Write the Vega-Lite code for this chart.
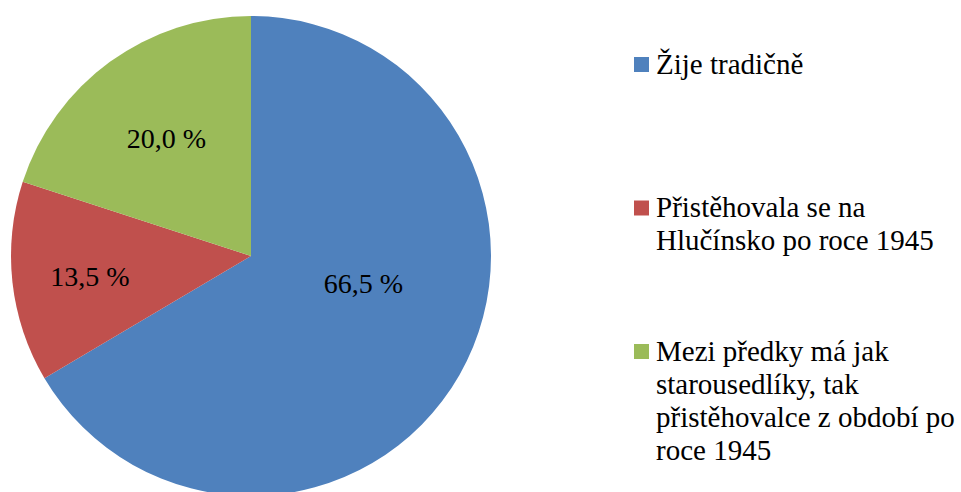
{
  "$schema": "https://vega.github.io/schema/vega-lite/v6.json",
  "width": 502,
  "height": 492,
  "autosize": {"type": "none"},
  "padding": {"left": 0, "top": 0, "right": 459, "bottom": 0},
  "background": "white",
  "config": {
    "view": {"stroke": null},
    "font": "Liberation Serif, Times New Roman, DejaVu Serif, serif",
    "legend": {"labelFont": "Liberation Serif, Times New Roman, DejaVu Serif, serif", "labelFontSize": 29, "labelColor": "#000000"}
  },
  "data": {
    "values": [
      {"cat": "Žije tradičně", "value": 66.5, "idx": 1, "label": "66,5 %"},
      {"cat": "Přistěhovala se na Hlučínsko po roce 1945", "value": 13.5, "idx": 2, "label": "13,5 %"},
      {"cat": "Mezi předky má jak starousedlíky, tak přistěhovalce z období po roce 1945", "value": 20.0, "idx": 3, "label": "20,0 %"}
    ]
  },
  "encoding": {
    "theta": {"field": "value", "type": "quantitative", "stack": true},
    "order": {"field": "idx", "type": "quantitative"}
  },
  "layer": [
    {
      "mark": {"type": "arc", "radius": 240, "yOffset": 10},
      "encoding": {
        "color": {
          "field": "cat",
          "type": "nominal",
          "title": null,
          "scale": {
            "domain": ["Žije tradičně", "Přistěhovala se na Hlučínsko po roce 1945", "Mezi předky má jak starousedlíky, tak přistěhovalce z období po roce 1945"],
            "range": ["#4F81BD", "#C0504D", "#9BBB59"]
          },
          "legend": {
            "orient": "none",
            "legendX": 627,
            "legendY": 50,
            "padding": 0,
            "symbolType": "square",
            "symbolSize": 225,
            "symbolStrokeWidth": 0,
            "symbolOpacity": 1,
            "labelFont": "Liberation Serif, Times New Roman, DejaVu Serif, serif",
            "labelFontSize": 29,
            "labelColor": "#000000",
            "labelLimit": 400,
            "labelOffset": 0,
            "labelBaseline": "middle",
            "rowPadding": 14.5,
            "labelExpr": "datum.label == 'Žije tradičně' ? ['Žije tradičně', '', '', ''] : datum.label == 'Přistěhovala se na Hlučínsko po roce 1945' ? ['Přistěhovala se na', 'Hlučínsko po roce 1945', '', ''] : ['Mezi předky má jak', 'starousedlíky, tak', 'přistěhovalce z období po', 'roce 1945']",
            "encode": {"labels": {"update": {"lineHeight": {"value": 33}}}}
          }
        }
      }
    },
    {
      "mark": {"type": "text", "radius": 116, "thetaOffset": -0.265, "yOffset": 10, "font": "Liberation Serif, Times New Roman, serif", "fontSize": 28, "color": "#000000", "align": "center", "baseline": "middle"},
      "encoding": {"text": {"condition": {"test": "datum.idx == 1", "field": "label"}, "value": ""}}
    },
    {
      "mark": {"type": "text", "radius": 162.5, "thetaOffset": -0.026, "yOffset": 10, "font": "Liberation Serif, Times New Roman, serif", "fontSize": 28, "color": "#000000", "align": "center", "baseline": "middle"},
      "encoding": {"text": {"condition": {"test": "datum.idx == 2", "field": "label"}, "value": ""}}
    },
    {
      "mark": {"type": "text", "radius": 144, "yOffset": 10, "font": "Liberation Serif, Times New Roman, serif", "fontSize": 28, "color": "#000000", "align": "center", "baseline": "middle"},
      "encoding": {"text": {"condition": {"test": "datum.idx == 3", "field": "label"}, "value": ""}}
    }
  ]
}
